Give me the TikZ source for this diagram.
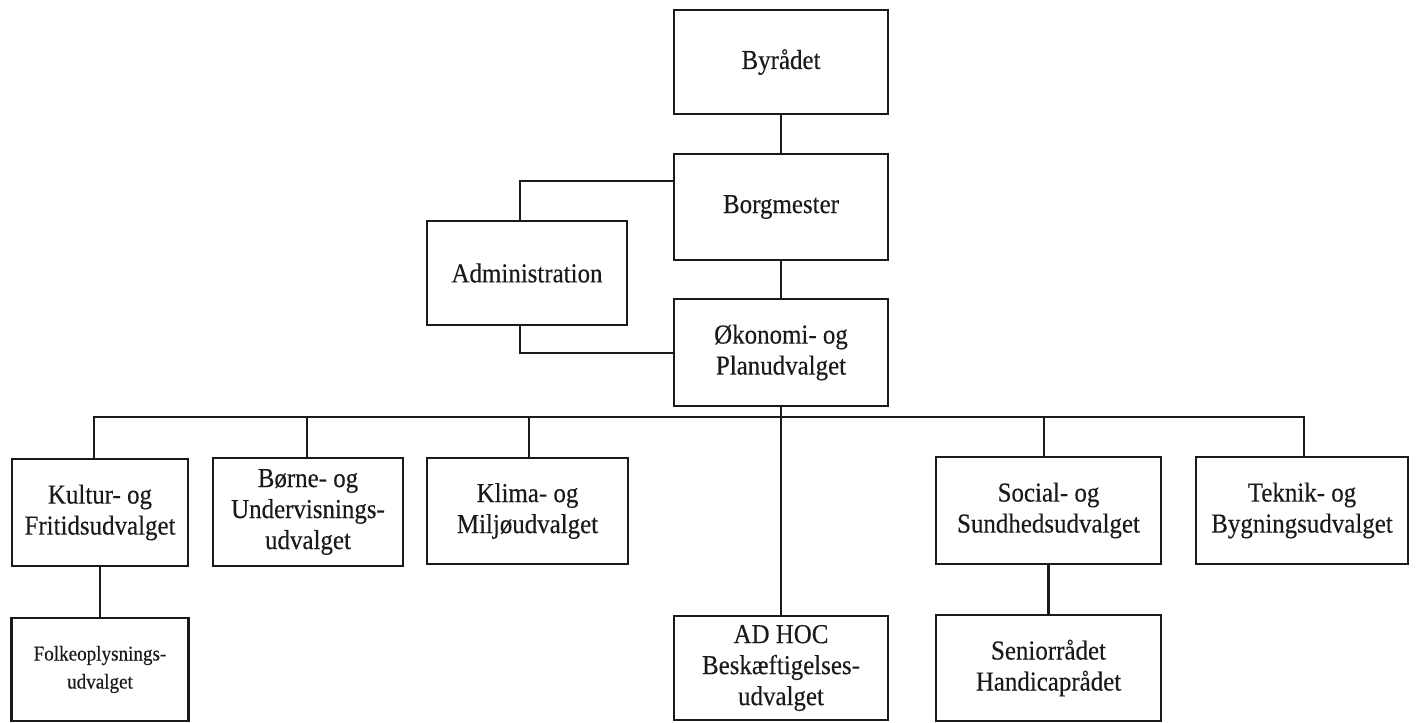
\documentclass[tikz,border=0pt]{standalone}
\usepackage{fontspec}
\setmainfont{Liberation Serif}[FakeStretch=0.91,FakeBold=0.3]
\definecolor{ink}{HTML}{1A1A1A}
\begin{document}
\begin{tikzpicture}[x=0.5pt,y=-0.5pt,
  box/.style={draw=ink, line width=1.45pt, rectangle, inner sep=0pt, align=center,
    text=ink, font=\fontsize{13.7}{15.5}\selectfont},
  smallbox/.style={box, font=\fontsize{10.5}{14}\selectfont},
  link/.style={draw=ink, line width=1.35pt}]
\useasboundingbox (0,0) rectangle (1416,722);
% top column
\node[box, minimum width=107pt, minimum height=52pt] (byr) at (781,62) {Byrådet};
\node[box, minimum width=107pt, minimum height=53pt] (borg) at (781,207) {Borgmester};
\node[box, minimum width=100pt, minimum height=52pt] (adm) at (527,273) {Administration};
\node[box, minimum width=107pt, minimum height=53.5pt] (oko) at (781,352.5) {Økonomi- og\\Planudvalget};
% committees
\node[box, minimum width=88pt, minimum height=53.5pt] (kul) at (100,512.5) {Kultur- og\\Fritidsudvalget};
\node[box, minimum width=95pt, minimum height=54pt] (bor) at (308,512) {Børne- og\\Undervisnings-\\udvalget};
\node[box, minimum width=100.5pt, minimum height=53pt] (kli) at (527.5,511) {Klima- og\\Miljøudvalget};
\node[box, minimum width=112.5pt, minimum height=53.5pt] (soc) at (1048.5,510.5) {Social- og\\Sundhedsudvalget};
\node[box, minimum width=106pt, minimum height=53.5pt] (tek) at (1302,510.5) {Teknik- og\\Bygningsudvalget};
% bottom row
\node[smallbox, minimum width=88.5pt, minimum height=51.5pt] (folk) at (100,669.5) {Folkeoplysnings-\\udvalget};
\node[box, minimum width=107pt, minimum height=52pt] (adhoc) at (781,668) {AD HOC\\Beskæftigelses-\\udvalget};
\node[box, minimum width=112.5pt, minimum height=53pt] (sen) at (1048.5,668) {Seniorrådet\\Handicaprådet};
% connectors
\draw[link] (byr.south) -- (borg.north);
\draw[link] (borg.south) -- (oko.north);
\coordinate (a1) at (520,181);
\coordinate (a2) at (520,353);
\draw[link] (a1 -| borg.west) -- (a1) -- (a1 |- adm.north);
\draw[link] (adm.south -| a2) -- (a2) -- (a2 -| oko.west);
\draw[link] (oko.south) -- (adhoc.north);
\coordinate (dk) at (94,417);
\coordinate (db) at (307,417);
\coordinate (dl) at (529,417);
\coordinate (ds) at (1044,417);
\coordinate (dt) at (1304,417);
\draw[link] (dk |- kul.north) -- (dk) -- (dt) -- (dt |- tek.north);
\draw[link] (db) -- (db |- bor.north);
\draw[link] (dl) -- (dl |- kli.north);
\draw[link] (ds) -- (ds |- soc.north);
\draw[link] (kul.south) -- (folk.north);
\draw[link] (soc.south) -- (sen.north);
\end{tikzpicture}
\end{document}
